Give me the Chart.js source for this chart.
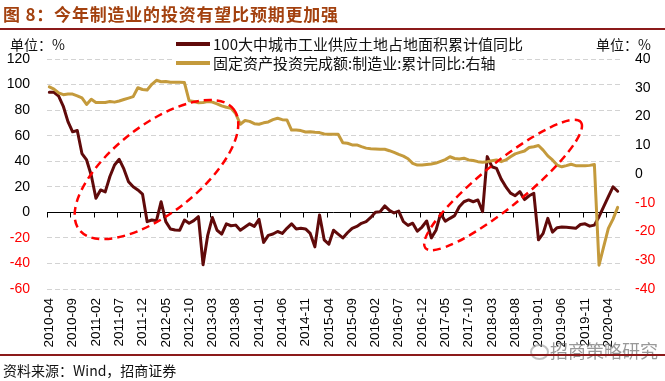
<!DOCTYPE html>
<html><head><meta charset="utf-8">
<script src="https://cdn.jsdelivr.net/npm/chart.js@4.4.0/dist/chart.umd.min.js"></script>
<style>
html,body{margin:0;padding:0;background:#fff;}
#wrap{position:relative;width:665px;height:381px;overflow:hidden;background:#fff;font-family:"Noto Sans CJK SC","Liberation Sans",sans-serif;color:#111;}
#c{position:absolute;left:0;top:0;}
.abs{position:absolute;white-space:nowrap;}
</style></head><body>
<div id="wrap">
<canvas id="c" width="665" height="381"></canvas>
<div class="abs" style="left:3px;top:3px;font-size:17px;font-weight:bold;color:#a3410f;letter-spacing:0.8px;line-height:22px;">图 8：今年制造业的投资有望比预期更加强</div>
<div class="abs" style="left:0;top:28px;width:665px;height:2px;background:#8b1a1a"></div>
<div class="abs" style="left:10px;top:35px;font-size:14px;line-height:18px;">单位：%</div>
<div class="abs" style="left:596px;top:35px;font-size:14px;line-height:18px;">单位：%</div>
<div class="abs" style="left:172px;top:34px;width:340px;height:38px;background:#fff;"></div>
<div class="abs" style="left:176px;top:42px;width:34px;height:4px;background:#600a0a;"></div>
<div class="abs" style="left:213px;top:35px;font-size:15px;line-height:18px;">100大中城市工业供应土地占地面积累计值同比</div>
<div class="abs" style="left:176px;top:61px;width:34px;height:4px;background:#c49a3c;"></div>
<div class="abs" style="left:213px;top:54px;font-size:15px;line-height:18px;">固定资产投资完成额:制造业:累计同比:右轴</div>
<div class="abs" style="left:530px;top:344px;width:15px;height:12px;border:2px solid rgba(150,150,150,0.6);border-radius:50%;"></div>
<div class="abs" style="left:550px;top:338px;font-size:18px;line-height:24px;color:rgba(110,110,110,0.7);">招商策略研究</div>
<div class="abs" style="left:0;top:354px;width:665px;height:2px;background:#8b1a1a"></div>
<div class="abs" style="left:3px;top:361px;font-size:14px;line-height:18px;">资料来源：Wind，招商证券</div>
</div>
<script>
const months = [
'2010-04','2010-05','2010-06','2010-07','2010-08','2010-09','2010-10','2010-11','2010-12',
'2011-01','2011-02','2011-03','2011-04','2011-05','2011-06','2011-07','2011-08','2011-09','2011-10','2011-11','2011-12',
'2012-01','2012-02','2012-03','2012-04','2012-05','2012-06','2012-07','2012-08','2012-09','2012-10','2012-11','2012-12',
'2013-01','2013-02','2013-03','2013-04','2013-05','2013-06','2013-07','2013-08','2013-09','2013-10','2013-11','2013-12',
'2014-01','2014-02','2014-03','2014-04','2014-05','2014-06','2014-07','2014-08','2014-09','2014-10','2014-11','2014-12',
'2015-01','2015-02','2015-03','2015-04','2015-05','2015-06','2015-07','2015-08','2015-09','2015-10','2015-11','2015-12',
'2016-01','2016-02','2016-03','2016-04','2016-05','2016-06','2016-07','2016-08','2016-09','2016-10','2016-11','2016-12',
'2017-01','2017-02','2017-03','2017-04','2017-05','2017-06','2017-07','2017-08','2017-09','2017-10','2017-11','2017-12',
'2018-01','2018-02','2018-03','2018-04','2018-05','2018-06','2018-07','2018-08','2018-09','2018-10','2018-11','2018-12',
'2019-01','2019-02','2019-03','2019-04','2019-05','2019-06','2019-07','2019-08','2019-09','2019-10','2019-11','2019-12',
'2020-01','2020-02','2020-03','2020-04','2020-05','2020-06'
];
const xTickLabels = ['2010-04','2010-09','2011-02','2011-07','2011-12','2012-05','2012-10','2013-03','2013-08',
'2014-01','2014-06','2014-11','2015-04','2015-09','2016-02','2016-07','2016-12','2017-05','2017-10',
'2018-03','2018-08','2019-01','2019-06','2019-11','2020-04'];
const leftTicks = [120,100,80,60,40,20,0,-20,-40,-60];
const rightTicks = [40,30,20,10,0,-10,-20,-30,-40];

// 100大中城市工业供应土地占地面积累计值同比 (左轴, %)
const landSupply = [
94,94,91,83,71,63,64,46,41,
29,11,17.5,16,28,37,41.5,34,24,20,17.5,14.3,
-7.3,-6,-6.5,8.3,-7.3,-13,-13.8,-14,-6,-8.6,-6.5,-3.4,
-41,-18,-4,-14,-17,-9,-10.5,-10,-14,-11.5,-9,-11,
-5.5,-23.5,-18,-17,-15,-16.5,-12.5,-9,-13,-12.5,-13,-16.5,
-27,-2,-21.5,-25,-14,-17,-20,-16,-12.5,-11,-8.6,-7.3,
-4,0,0.5,5,1.5,-0.5,1,-7.3,-10.2,-8.5,-14.8,-11.5,
-6.8,-20,-14,-1,-7,-4.7,-2.6,4.4,8.3,9.7,8.3,9.7,
0.5,43.6,35.7,34.4,26,20,15,13,16.2,10,13,14.9,
-21.5,-16.5,-4.7,-15.5,-12,-11.5,-11.7,-12,-12.5,-9.5,-9,-10.8,
-10,-3.4,4.4,12.3,20,16.5
];
// 固定资产投资完成额:制造业:累计同比 (右轴, %)
const mfgInvest = [
30.3,29.5,28.2,27.6,27.8,27.8,27.2,26.5,24.2,
26.0,24.9,24.9,24.9,25.2,25.0,25.4,25.9,26.4,26.9,30.0,29.4,
29.2,31.2,32.6,32.1,32.2,31.9,31.9,31.9,31.8,25.5,25.2,24.8,
24.9,25.2,25.0,24.4,23.7,23.2,22.9,21.0,17.3,18.6,18.3,17.5,
17.3,17.8,18.1,18.9,19.4,18.9,18.8,15.3,15.3,15.1,14.6,14.7,
14.5,14.4,13.9,13.8,13.8,13.8,10.9,10.7,10.1,10.1,9.5,9.0,
8.8,8.7,8.6,8.6,8.1,7.5,6.8,6.2,5.3,3.7,3.1,3.1,
3.3,3.5,3.8,4.4,5.0,6.0,5.4,5.2,5.5,4.9,4.7,4.3,
4.1,4.3,4.6,4.9,4.3,4.9,6.0,7.0,7.5,8.0,9.2,9.5,
9.9,8.3,6.3,4.9,3.1,2.5,2.9,3.4,2.9,2.9,2.9,3.0,
3.3,-31.7,-25.3,-18.9,-15.7,-11.6
];
// hand-drawn dashed ellipses (centre in category index / left-axis value)
const annotations = [
  {cx: 23.0, cy: 33.5, rx: 98, ry: 44, rot: -38},
  {cx: 97.4, cy: 21.4, rx: 100, ry: 22, rot: -39}
];

const BROWN = '#600a0a', GOLD = '#c49a3c', RED = '#ff0000';
const tickFont = {family: '"Liberation Sans", Arial, sans-serif', size: 14};

const overlay = {
  id: 'overlay',
  beforeDatasetsDraw(chart) {
    const {ctx, chartArea: a, scales: {x, y}} = chart;
    const y0 = Math.round(y.getPixelForValue(0)) + 0.5;
    const half = (x.getPixelForValue(1) - x.getPixelForValue(0)) / 2;
    ctx.save();
    ctx.strokeStyle = '#000'; ctx.lineWidth = 1;
    ctx.beginPath();
    ctx.moveTo(a.left, y0); ctx.lineTo(a.right, y0);
    months.forEach((m, i) => {
      if (xTickLabels.includes(m)) {
        const px = Math.round(x.getPixelForValue(i) - half) + 0.5;
        ctx.moveTo(px, y0); ctx.lineTo(px, y0 + 5);
      }
    });
    ctx.stroke();
    ctx.restore();
  },
  afterDatasetsDraw(chart) {
    const {ctx, scales: {x, y}} = chart;
    ctx.save();
    ctx.strokeStyle = RED; ctx.lineWidth = 2.5; ctx.setLineDash([8, 5]);
    annotations.forEach(an => {
      ctx.beginPath();
      ctx.ellipse(x.getPixelForValue(an.cx), y.getPixelForValue(an.cy), an.rx, an.ry, an.rot * Math.PI / 180, 0, Math.PI * 2);
      ctx.stroke();
    });
    ctx.restore();
  }
};

new Chart(document.getElementById('c'), {
  type: 'line',
  data: {
    labels: months,
    datasets: [
      {label: '100大中城市工业供应土地占地面积累计值同比', data: landSupply, yAxisID: 'y',
       borderColor: BROWN, borderWidth: 3, pointRadius: 0, tension: 0, order: 1,
       borderJoinStyle: 'round', borderCapStyle: 'round'},
      {label: '固定资产投资完成额:制造业:累计同比:右轴', data: mfgInvest, yAxisID: 'y2',
       borderColor: GOLD, borderWidth: 3, pointRadius: 0, tension: 0, order: 0,
       borderJoinStyle: 'round', borderCapStyle: 'round'}
    ]
  },
  options: {
    responsive: false, animation: false, devicePixelRatio: 1,
    layout: {padding: {left: 0, right: 0, top: 59, bottom: 0}},
    plugins: {legend: {display: false}, tooltip: {enabled: false}, title: {display: false}},
    scales: {
      x: {
        type: 'category', offset: true,
        grid: {display: false, drawTicks: false, offset: true},
        border: {display: false},
        ticks: {autoSkip: false, minRotation: 90, maxRotation: 90, padding: 9,
          color: '#000', font: {family: tickFont.family, size: 13.5},
          callback(v, i) { const m = months[i]; return xTickLabels.includes(m) ? m : ''; }},
        afterFit(s) { s.height = 92; }
      },
      y: {
        position: 'left', min: -60, max: 120,
        afterBuildTicks(s) { s.ticks = leftTicks.map(v => ({value: v})); },
        grid: {drawTicks: false, lineWidth: 1,
          color: c => (c.tick && c.tick.value === 0) ? 'rgba(0,0,0,0)' : '#d3d3d3'},
        border: {display: false, dash: [5, 3]},
        ticks: {padding: 17, font: tickFont,
          color: c => c.tick.value < 0 ? RED : '#000'},
        afterFit(s) { s.width = 47; }
      },
      y2: {
        position: 'right', min: -40, max: 40,
        afterBuildTicks(s) { s.ticks = rightTicks.map(v => ({value: v})); },
        grid: {display: false, drawTicks: false},
        border: {display: false},
        ticks: {padding: 15, font: tickFont,
          color: c => c.tick.value < 0 ? RED : '#000'},
        afterFit(s) { s.width = 45; }
      }
    }
  },
  plugins: [overlay]
});
</script>
</body></html>
